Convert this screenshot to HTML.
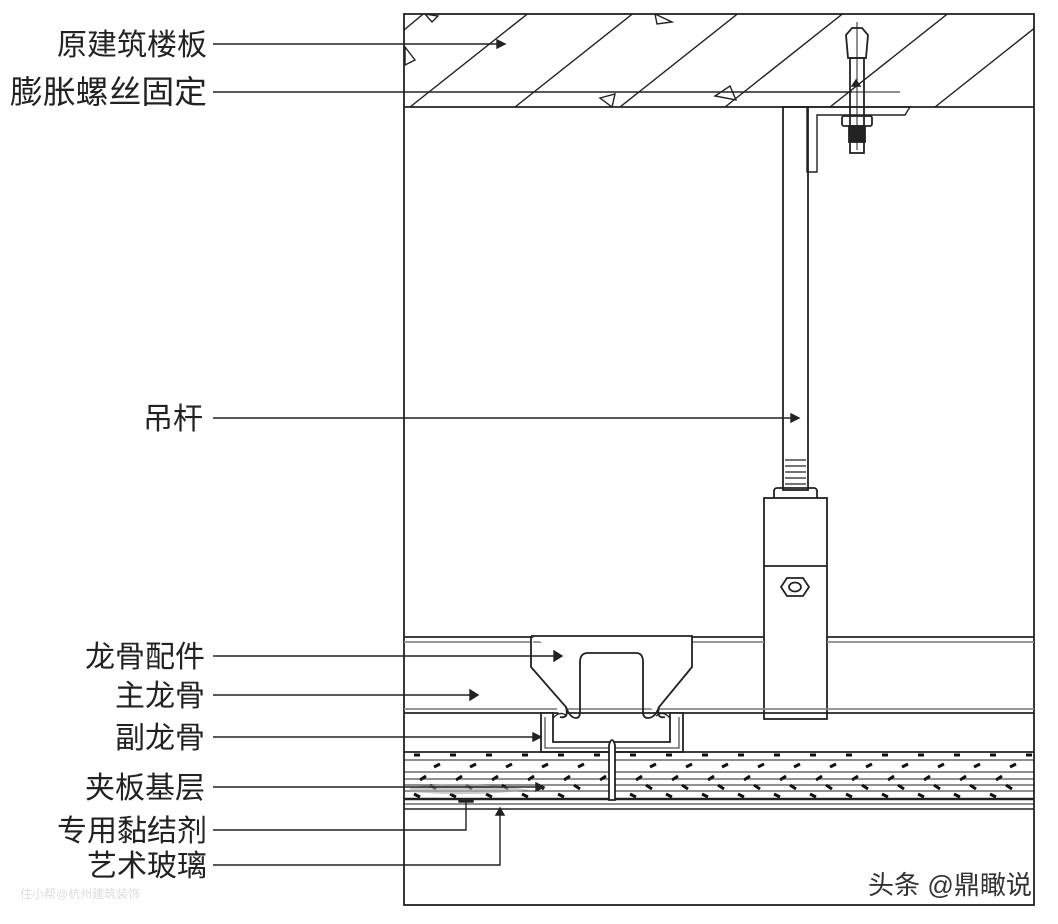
<!DOCTYPE html>
<html><head><meta charset="utf-8"><style>
html,body{margin:0;padding:0;background:#fff;}
svg{display:block;}
text{font-family:"Liberation Sans","Noto Sans CJK SC",sans-serif;}
</style></head><body>
<svg width="1058" height="924" viewBox="0 0 1058 924" xmlns="http://www.w3.org/2000/svg">
<rect width="1058" height="924" fill="#fff"/>
<defs><clipPath id="slab"><rect x="404" y="14" width="630" height="93"/></clipPath></defs>
<g stroke="#222" fill="none" stroke-width="1.8">
<rect x="404" y="14" width="630" height="891"/>
<line x1="404" y1="107" x2="1034" y2="107"/>
<line x1="404" y1="92" x2="900" y2="92" stroke-width="1"/>
<g clip-path="url(#slab)" stroke-width="1.4">
<line x1="410" y1="107" x2="545" y2="0"/>
<line x1="515" y1="107" x2="650" y2="0"/>
<line x1="620" y1="107" x2="755" y2="0"/>
<line x1="725" y1="107" x2="860" y2="0"/>
<line x1="830" y1="107" x2="965" y2="0"/>
<line x1="935" y1="107" x2="1070" y2="0"/>
<line x1="380" y1="50" x2="440" y2="0"/>
<path d="M405 47 L415 60 L405 65Z"/>
<path d="M655 14 L672 22 L657 24Z"/>
<path d="M600 98 L615 94 L612 107Z"/>
<path d="M715 96 L730 86 L736 100Z"/>
<path d="M425 14 L438 16 L432 22Z"/>
</g>
<path d="M807 107 L910 107 L905 115 L817 115 L817 172 L807 172Z" stroke-width="1.4"/>
<rect x="850" y="58" width="14" height="95"/>
<path d="M848 58 L846 35 L852 28 L862 28 L868 35 L866 58Z"/>
<rect x="842" y="116" width="30" height="10" rx="2"/>
<rect x="849" y="126" width="16" height="16" fill="#222"/>
<line x1="857" y1="22" x2="857" y2="150" stroke-width="1"/>
<rect x="783" y="107" width="25" height="383"/>
<path d="M785 460 h21 M785 466 h21 M785 472 h21 M785 478 h21 M785 484 h21" stroke-width="1.2"/>
<rect x="774" y="488" width="43" height="18" rx="3"/>
<line x1="764" y1="499" x2="827" y2="499" stroke-width="3"/>
<path d="M785 508 h21 M785 514 h21 M785 520 h21 M785 526 h21" stroke-width="1.2"/>
<rect x="764" y="498" width="63" height="221" fill="#fff"/>
<line x1="764" y1="566" x2="827" y2="566"/>
<polygon points="781,587 787,578 803,578 809,587 803,596 787,596"/>
<ellipse cx="795" cy="587" rx="6" ry="4.5"/>
<line x1="404" y1="637" x2="764" y2="637"/>
<line x1="404" y1="642" x2="764" y2="642" stroke="#888"/>
<line x1="827" y1="637" x2="1034" y2="637"/>
<line x1="827" y1="642" x2="1034" y2="642" stroke="#888"/>
<line x1="404" y1="709" x2="1034" y2="709" stroke="#888"/>
<line x1="404" y1="713" x2="1034" y2="713"/>
<path d="M531 636 L692 636 L692 667 L659 707 Q656 719 665 717" fill="#fff"/>
<path d="M531 636 L531 667 L566 707 Q569 719 560 717" fill="#fff"/>
<path d="M566 707 Q570 718 576 718 Q580 718 580 712 L580 662 Q580 653 588 653 L636 653 Q643 653 643 662 L643 712 Q643 718 648 718 Q655 718 659 707"/>
<path d="M541 713 L541 752 L683 752 L683 713 L670 713 L670 742 L553 742 L553 713Z" fill="#fff"/>
<path d="M545 717 L545 748 L679 748 L679 717" stroke-width="1"/>
<path d="M553 718 Q560 710 567 716 M670 718 Q663 710 656 716" stroke-width="1.4"/>
<line x1="404" y1="752" x2="1034" y2="752"/>
<line x1="404" y1="760" x2="1034" y2="760" stroke-width="1"/>
<line x1="404" y1="772" x2="1034" y2="772" stroke-width="1"/>
<line x1="404" y1="779" x2="1034" y2="779" stroke-width="1"/>
<line x1="404" y1="785" x2="1034" y2="785" stroke-width="1"/>
<line x1="404" y1="791" x2="1034" y2="791" stroke-width="1"/>
<line x1="404" y1="799" x2="1034" y2="799" stroke-width="2.5"/>
<line x1="404" y1="804" x2="1034" y2="804" stroke-width="1"/>
<line x1="404" y1="809" x2="1034" y2="809" stroke-width="1.4"/>
<path d="M609 800 L609 745 Q612 735 615 745 L615 800Z" fill="#fff"/>
</g>
<g stroke="#111" stroke-width="3" fill="none">
<path d="M414 755h6M450 755h6M486 755h6M522 755h6M558 755h6M594 755h6M630 755h6M666 755h6M702 755h6M738 755h6M774 755h6M810 755h6M846 755h6M882 755h6M918 755h6M954 755h6M990 755h6M1026 755h6"/>
<path d="M434 767l6-3M470 767l6-3M506 767l6-3M542 767l6-3M578 767l6-3M650 767l6-3M686 767l6-3M722 767l6-3M758 767l6-3M794 767l6-3M830 767l6-3M866 767l6-3M902 767l6-3M938 767l6-3M974 767l6-3M1010 767l6-3"/>
<path d="M420 780l6-4M456 780l6-4M492 780l6-4M528 780l6-4M564 780l6-4M600 780l6-4M636 780l6-4M672 780l6-4M708 780l6-4M744 780l6-4M780 780l6-4M816 780l6-4M852 780l6-4M888 780l6-4M924 780l6-4M960 780l6-4M996 780l6-4"/>
<path d="M430 785l6 4M466 785l6 4M502 785l6 4M538 785l6 4M574 785l6 4M646 785l6 4M682 785l6 4M718 785l6 4M754 785l6 4M790 785l6 4M826 785l6 4M862 785l6 4M898 785l6 4M934 785l6 4M970 785l6 4M1006 785l6 4"/>
<path d="M414 794l6 3M450 794l6 3M486 794l6 3M522 794l6 3M558 794l6 3M630 794l6 3M666 794l6 3M702 794l6 3M738 794l6 3M774 794l6 3M810 794l6 3M846 794l6 3M882 794l6 3M918 794l6 3M954 794l6 3M990 794l6 3"/>
</g>
<path d="M410 787 Q470 780 530 790 Q470 797 410 792Z" fill="#aaa" opacity="0.6"/>
<g stroke="#222" stroke-width="1.4" fill="#222">
<line x1="213" y1="44" x2="503" y2="44"/><path d="M497 40 L505 44 L497 48Z"/>
<line x1="213" y1="92" x2="852" y2="92"/><path d="M852 86 L856 80 L860 86Z"/>
<line x1="213" y1="418" x2="797" y2="418"/><path d="M791 414 L799 418 L791 422Z"/>
<line x1="213" y1="656" x2="560" y2="656"/><path d="M554 651 L562 656 L554 661Z"/>
<line x1="213" y1="695" x2="476" y2="695"/><path d="M470 690 L478 695 L470 700Z"/>
<line x1="213" y1="737" x2="539" y2="737"/><path d="M533 733 L541 737 L533 741Z"/>
<line x1="213" y1="787" x2="542" y2="787"/><path d="M536 783 L544 787 L536 791Z"/>
<polyline points="213,830 466,830 466,801" fill="none"/><rect x="459" y="799" width="14" height="3"/>
<polyline points="213,865 500,865 500,810" fill="none"/><path d="M496 815 L500 808 L504 815Z"/>
</g>
<g font-size="30" fill="#222" text-anchor="end">
<text x="207" y="55">原建筑楼板</text>
<text x="207" y="103" font-size="32" textLength="197" lengthAdjust="spacingAndGlyphs">膨胀螺丝固定</text>
<text x="203" y="429">吊杆</text>
<text x="205" y="667">龙骨配件</text>
<text x="205" y="706">主龙骨</text>
<text x="205" y="748">副龙骨</text>
<text x="205" y="798">夹板基层</text>
<text x="207" y="841">专用黏结剂</text>
<text x="207" y="876">艺术玻璃</text>
</g>
<text x="868" y="894" font-size="26" fill="#333" textLength="164" lengthAdjust="spacingAndGlyphs">头条 @鼎瞰说</text>
<text x="20" y="898" font-size="12" fill="#ddd">住小帮@杭州建筑装饰</text>
</svg>
</body></html>
